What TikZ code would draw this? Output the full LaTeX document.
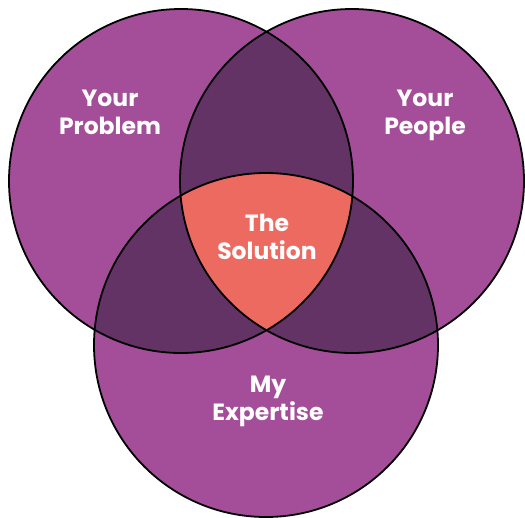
\documentclass[tikz,border=0pt]{standalone}
\usepackage{fontspec}
\setmainfont{Poppins}
\definecolor{vpurple}{HTML}{A44E9A}
\definecolor{vdark}{HTML}{643366}
\definecolor{vsalmon}{HTML}{EC6A5F}
\begin{document}
\begin{tikzpicture}[x=1pt,y=-1pt,
  lbl/.style={text=white,font=\fontsize{23.5}{28}\selectfont\bfseries,align=center,inner sep=0pt},
  ring/.style={draw=black,line width=1.8pt}]
\useasboundingbox (0,0) rectangle (525,517);
\coordinate (cA) at (181,181);
\coordinate (cB) at (352,181);
\coordinate (cC) at (266,345);
\def\rr{172}
% base fills
\fill[vpurple] (cA) circle[radius=\rr];
\fill[vpurple] (cB) circle[radius=\rr];
\fill[vpurple] (cC) circle[radius=\rr];
% pairwise overlaps
\begin{scope}
  \clip (cA) circle[radius=\rr];
  \fill[vdark] (cB) circle[radius=\rr];
  \fill[vdark] (cC) circle[radius=\rr];
\end{scope}
\begin{scope}
  \clip (cB) circle[radius=\rr];
  \fill[vdark] (cC) circle[radius=\rr];
\end{scope}
% triple overlap
\begin{scope}
  \clip (cA) circle[radius=\rr];
  \clip (cB) circle[radius=\rr];
  \fill[vsalmon] (cC) circle[radius=\rr];
\end{scope}
% outlines
\draw[ring] (cA) circle[radius=\rr];
\draw[ring] (cB) circle[radius=\rr];
\draw[ring] (cC) circle[radius=\rr];
% labels
\node[lbl] (problem) at (110,112) {Your\\Problem};
\node[lbl] (people) at (425,115) {Your\\People};
\node[lbl] (solution) at (267,236.5) {The\\Solution};
\node[lbl] (expertise) at (268,401) {My\\Expertise};
\end{tikzpicture}
\end{document}
